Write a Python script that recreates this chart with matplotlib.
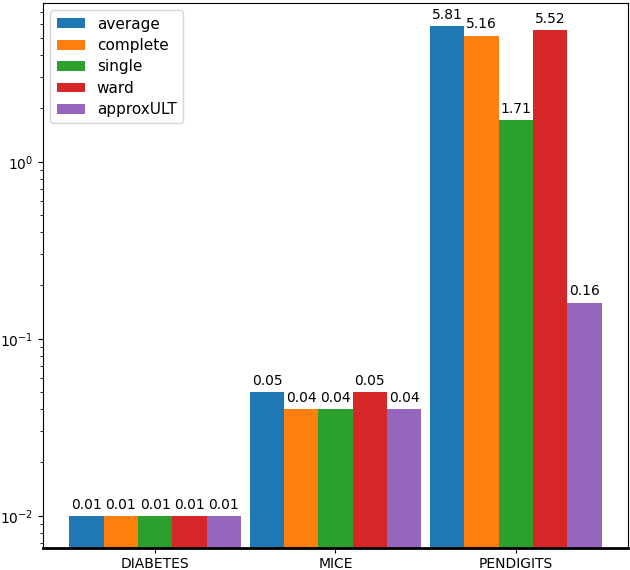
import numpy as np
import matplotlib
matplotlib.use("Agg")
import matplotlib.pyplot as plt

datasets = ["DIABETES", "MICE", "PENDIGITS"]
methods = ["average", "complete", "single", "ward", "approxULT"]
average = [0.01, 0.05, 5.81]
complete = [0.01, 0.04, 5.16]
single = [0.01, 0.04, 1.71]
ward = [0.01, 0.05, 5.52]
approxULT = [0.01, 0.04, 0.16]

series = [average, complete, single, ward, approxULT]

fig, ax = plt.subplots(figsize=(6.3, 5.7), dpi=100)
x = np.arange(len(datasets))
width = 0.19

for i, (name, vals) in enumerate(zip(methods, series)):
    pos = x + (i - 2) * width
    rects = ax.bar(pos, vals, width, label=name)
    # valores em cima das barras
    for r, v in zip(rects, vals):
        ax.annotate("%.2f" % v, xy=(r.get_x() + r.get_width() / 2, r.get_height()),
                    xytext=(0, 3), textcoords="offset points",
                    ha="center", va="bottom")

ax.set_yscale("log")
ax.set_ylim(0.00659, 7.9)
ax.set_xticks(x)
ax.set_xticklabels(datasets)
ax.spines["bottom"].set_linewidth(2)
ax.legend(loc="upper left", fontsize=11, labelspacing=0.42,
          handlelength=1.83, handleheight=0.62)

fig.subplots_adjust(left=0.068, right=0.997, top=0.995, bottom=0.039)
fig.savefig("out.png")
